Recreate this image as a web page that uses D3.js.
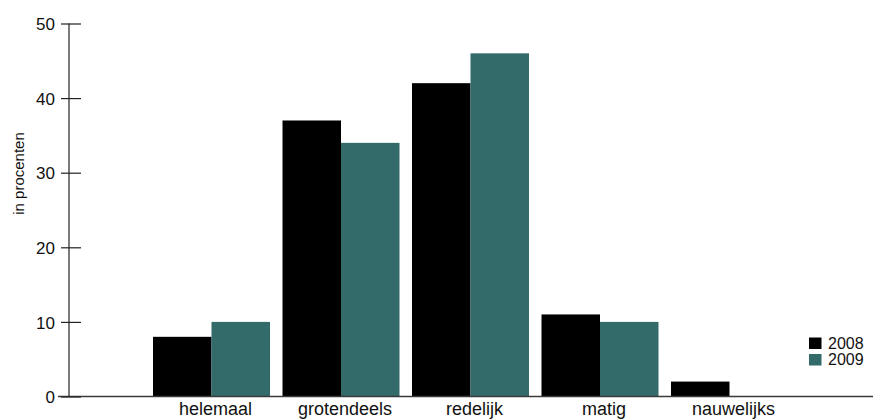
<!DOCTYPE html>
<html>
<head>
<meta charset="utf-8">
<script src="https://cdn.jsdelivr.net/npm/d3@7"></script>
<style>
  html, body { margin: 0; padding: 0; background: #fff; }
  svg { display: block; }
  text { font-family: "Liberation Sans", Arial, sans-serif; fill: #111; }
</style>
</head>
<body>
<svg id="chart" width="873" height="419"></svg>
<script>
const categories = ["helemaal", "grotendeels", "redelijk", "matig", "nauwelijks"];
const seriesNames = ["2008", "2009"];
const values2008 = [8, 37, 42, 11, 2];
const values2009 = [10, 34, 46, 10, 0];
const yTicks = [0, 10, 20, 30, 40, 50];
const yLabel = "in procenten";
const colors = ["#000000", "#336a6a"];

const seriesValues = [values2008, values2009];
const rows = categories.map((c, i) => ({
  cat: c,
  vals: seriesNames.map((s, j) => ({ key: s, value: seriesValues[j][i], color: colors[j] }))
}));

const svg = d3.select("#chart");

const y = d3.scaleLinear().domain([0, 50]).range([396.5, 23.5]);
const x0 = d3.scaleBand().domain(categories).range([75.3, 865.7])
  .paddingInner(0.0965).paddingOuter(0.6);
const x1 = d3.scaleBand().domain(seriesNames).range([0, x0.bandwidth()]);

// bars
const g = svg.append("g");
g.selectAll("g.grp").data(rows).join("g")
  .attr("class", "grp")
  .attr("transform", d => `translate(${x0(d.cat)},0)`)
  .selectAll("rect").data(d => d.vals.filter(v => v.value > 0)).join("rect")
  .attr("x", v => x1(v.key))
  .attr("width", x1.bandwidth())
  .attr("y", v => y(v.value))
  .attr("height", v => y(0) - y(v.value))
  .attr("fill", v => v.color);

// baseline
svg.append("line")
  .attr("x1", 58).attr("x2", 873)
  .attr("y1", y(0)).attr("y2", y(0))
  .attr("stroke", "#3a3a3a").attr("stroke-width", 1.5);

// y axis
const yAxis = d3.axisLeft(y).tickValues(yTicks).tickSize(0).tickPadding(0);
const ya = svg.append("g").attr("transform", "translate(69,0)").call(yAxis);
ya.select(".domain").remove();
ya.append("line").attr("x1", 0).attr("x2", 0).attr("y1", y(50)).attr("y2", y(0))
  .attr("stroke", "#222").attr("stroke-width", 1.2);
ya.selectAll(".tick line").remove();
ya.selectAll(".tick").append("line")
  .attr("x1", -8).attr("x2", 12)
  .attr("stroke", "#222").attr("stroke-width", 1.2);
ya.selectAll(".tick text")
  .attr("x", -14).attr("dy", "0.36em")
  .style("font-size", "17px")
  .style("font-family", "'Liberation Sans', Arial, sans-serif")
  .attr("fill", "#111");

// y label
svg.append("text")
  .attr("transform", `translate(24,173.5) rotate(-90)`)
  .attr("text-anchor", "middle")
  .style("font-size", "15px")
  .text(yLabel);

// x labels
svg.selectAll("text.xl").data(categories).join("text")
  .attr("class", "xl")
  .attr("x", d => x0(d) + x0.bandwidth() / 2 + 4)
  .attr("y", 415)
  .attr("text-anchor", "middle")
  .style("font-size", "18px")
  .text(d => d);

// legend
const leg = svg.append("g");
seriesNames.forEach((s, i) => {
  leg.append("rect")
    .attr("x", 809).attr("y", 337.5 + i * 16.5)
    .attr("width", 12.5).attr("height", 11.5)
    .attr("fill", colors[i]);
  leg.append("text")
    .attr("x", 828).attr("y", 348.5 + i * 16.5)
    .style("font-size", "16px")
    .text(s);
});
</script>
</body>
</html>
